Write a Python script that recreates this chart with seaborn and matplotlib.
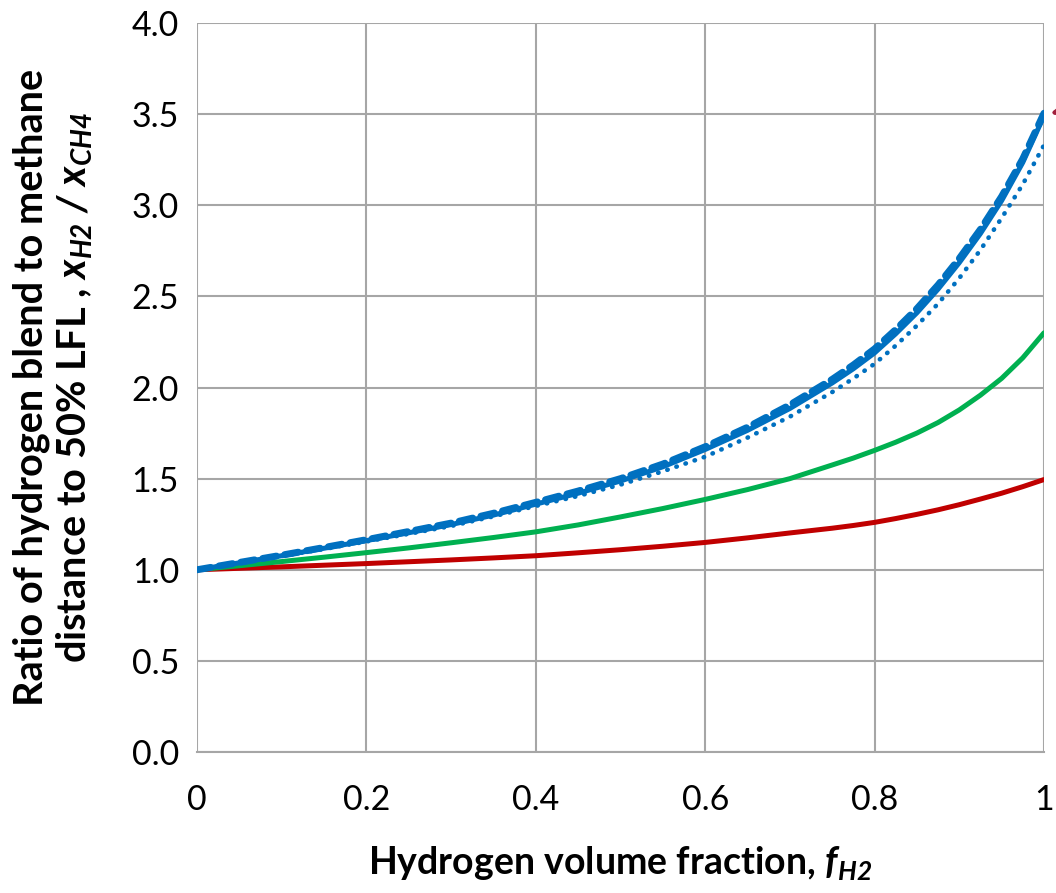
import numpy as np
import pandas as pd
import matplotlib
matplotlib.use("Agg")
import matplotlib.pyplot as plt
import seaborn as sns

f_h2 = [0.0, 0.05, 0.1, 0.15, 0.2, 0.25, 0.3, 0.35, 0.4, 0.45, 0.5,
        0.55, 0.6, 0.65, 0.7, 0.75, 0.775, 0.8, 0.825, 0.85, 0.875,
        0.9, 0.925, 0.95, 0.975, 1.0]
blue_solid = [1.000, 1.038, 1.077, 1.118, 1.160, 1.203, 1.248, 1.300, 1.360, 1.420, 1.487,
              1.565, 1.660, 1.765, 1.885, 2.025, 2.103, 2.190, 2.295, 2.410, 2.540,
              2.685, 2.845, 3.025, 3.235, 3.490]
blue_dashed = [1.000, 1.040, 1.080, 1.122, 1.165, 1.210, 1.256, 1.310, 1.370, 1.432, 1.500,
               1.580, 1.675, 1.782, 1.905, 2.045, 2.124, 2.212, 2.318, 2.433, 2.563,
               2.708, 2.868, 3.048, 3.255, 3.505]
blue_dotted = [1.000, 1.037, 1.075, 1.114, 1.155, 1.197, 1.240, 1.293, 1.350, 1.405, 1.467,
               1.540, 1.620, 1.725, 1.840, 1.975, 2.050, 2.130, 2.230, 2.340, 2.460,
               2.600, 2.755, 2.930, 3.115, 3.330]
green = [1.000, 1.022, 1.045, 1.069, 1.094, 1.120, 1.148, 1.177, 1.208, 1.246, 1.290,
         1.336, 1.386, 1.440, 1.500, 1.575, 1.613, 1.655, 1.700, 1.750, 1.808,
         1.877, 1.958, 2.050, 2.163, 2.300]
red = [1.000, 1.008, 1.016, 1.025, 1.034, 1.044, 1.054, 1.065, 1.077, 1.093, 1.110,
       1.129, 1.150, 1.175, 1.202, 1.228, 1.243, 1.260, 1.281, 1.304, 1.329,
       1.357, 1.388, 1.420, 1.456, 1.495]

x_ticks = [0, 0.2, 0.4, 0.6, 0.8, 1]
x_tick_labels = ["0", "0.2", "0.4", "0.6", "0.8", "1"]
y_ticks = [0.0, 0.5, 1.0, 1.5, 2.0, 2.5, 3.0, 3.5, 4.0]

sns.set_theme(style="whitegrid")
plt.rcParams['font.family'] = ['Lato', 'DejaVu Sans']
plt.rcParams['mathtext.fontset'] = 'custom'
plt.rcParams['mathtext.rm'] = 'Lato'
plt.rcParams['mathtext.it'] = 'Lato:italic'
plt.rcParams['mathtext.bf'] = 'Lato:bold'
plt.rcParams['mathtext.bfit'] = 'Lato:italic:bold'

n = len(f_h2)
df = pd.DataFrame({"f": f_h2 * 5,
                   "ratio": blue_solid + blue_dashed + blue_dotted + green + red,
                   "series": (["solid"] * n + ["dashed"] * n + ["dotted"] * n +
                              ["green"] * n + ["red"] * n)})

fig = plt.figure(figsize=(10.56, 8.93), dpi=100)
ax = fig.add_axes([0.1866, 0.1579, 0.802, 0.8163])

BLUE = "#0070C0"
styles = {
    "red": dict(color="#C00000", lw=3.6, ls="-"),
    "green": dict(color="#00B050", lw=3.6, ls="-"),
    "dotted": dict(color=BLUE, lw=3.3, ls=(0, (0.1, 2.0))),
    "solid": dict(color=BLUE, lw=3.6, ls="-"),
    "dashed": dict(color=BLUE, lw=5.0, ls=(0, (2.0, 1.2))),
}
for name, st in styles.items():
    sub = df[df["series"] == name]
    sns.lineplot(data=sub, x="f", y="ratio", ax=ax, color=st["color"],
                 linewidth=st["lw"], linestyle=st["ls"], legend=False,
                 solid_capstyle="round", dash_capstyle="round", estimator=None)

ax.set_xlim(0, 1)
ax.set_ylim(0, 4.0)
ax.set_xticks(x_ticks)
ax.set_xticklabels(x_tick_labels)
ax.set_yticks(y_ticks)
ax.set_yticklabels([f"{v:.1f}" for v in y_ticks])

ax.grid(True, color="#A6A6A6", linewidth=1.5)
for s in ["top", "right", "left"]:
    ax.spines[s].set_visible(False)
ax.spines["bottom"].set_color("#A6A6A6")
ax.spines["bottom"].set_linewidth(1.5)
ax.tick_params(axis="both", which="major", direction="out", length=9,
               width=1.5, color="#A6A6A6", labelsize=24.5, labelcolor="black", pad=4)
ax.tick_params(axis="x", pad=14)

ax.set_xlabel(r"Hydrogen volume fraction, $\mathbfit{f}_{\mathbfit{H2}}$",
              fontsize=27, fontweight="bold", labelpad=20, color="black")
ax.set_ylabel("Ratio of hydrogen blend to methane\n"
              r"distance to 50% LFL , $\mathbfit{x}_{\mathbfit{H2}}$ $\mathbfit{/}$ $\mathbfit{x}_{\mathbfit{CH4}}$",
              fontsize=28.5, fontweight="bold", labelpad=26, color="black",
              linespacing=1.15)

ax.annotate("", xy=(1.004, 3.50), xytext=(1.10, 3.60),
            arrowprops=dict(arrowstyle="-|>", color="#A0203C", lw=3,
                            mutation_scale=30),
            annotation_clip=False)

fig.savefig("out.png", dpi=100)
